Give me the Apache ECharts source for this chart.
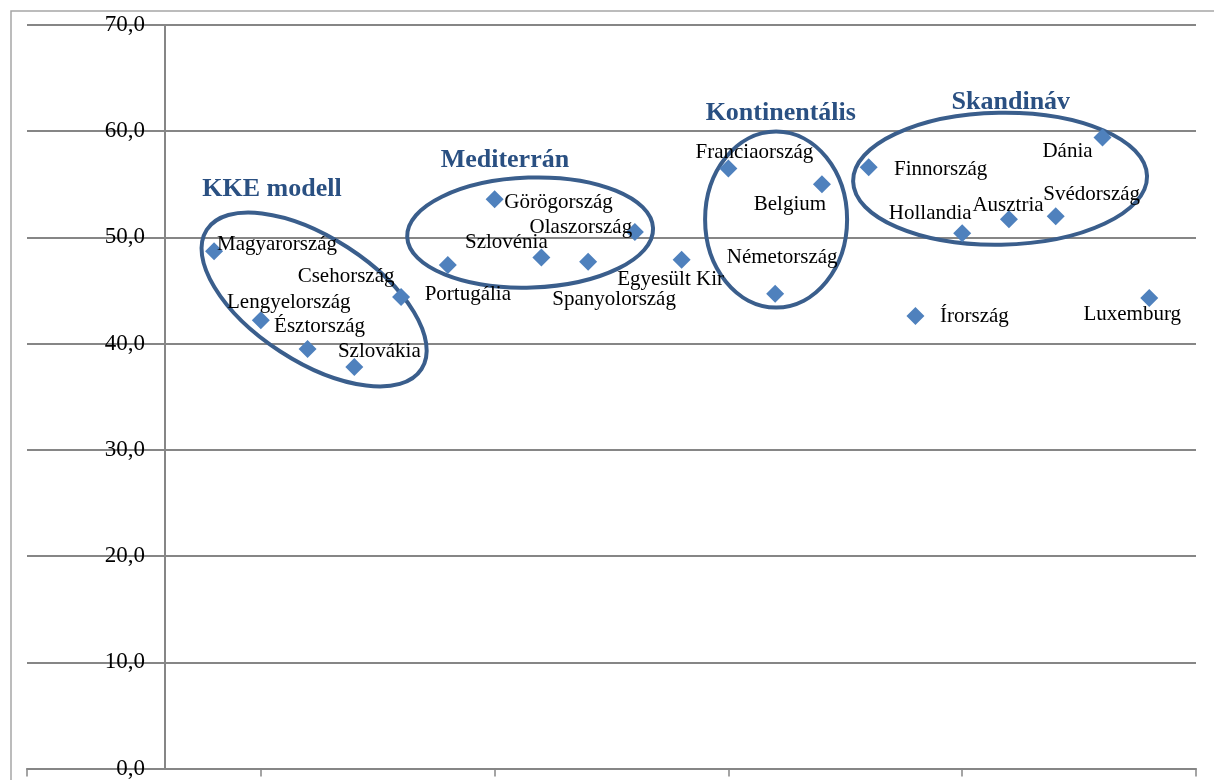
<!DOCTYPE html>
<html>
<head>
<meta charset="utf-8">
<script src="https://cdn.jsdelivr.net/npm/echarts@6/dist/echarts.min.js"></script>
<style>
  html, body { margin: 0; padding: 0; background: #fff; }
  #chart { width: 1214px; height: 780px; }
</style>
</head>
<body>
<div id="chart"></div>
<script>
// countries in x order (x = 4 ... 24)
const countries = ['Magyarország', 'Lengyelország', 'Észtország', 'Szlovákia', 'Csehország',
  'Portugália', 'Görögország', 'Szlovénia', 'Spanyolország', 'Olaszország', 'Egyesült Kir',
  'Franciaország', 'Németország', 'Belgium', 'Finnország', 'Írország', 'Hollandia',
  'Ausztria', 'Svédország', 'Dánia', 'Luxemburg']
const xValues = [4, 5, 6, 7, 8, 9, 10, 11, 12, 13, 14, 15, 16, 17, 18, 19, 20, 21, 22, 23, 24]
const yValues = [48.7, 42.2, 39.5, 37.8, 44.4, 47.4, 53.6, 48.1, 47.7, 50.5, 47.9,
  56.5, 44.7, 55.0, 56.6, 42.6, 50.4, 51.7, 52.0, 59.4, 44.3]
const yTickLabels = ['0,0', '10,0', '20,0', '30,0', '40,0', '50,0', '60,0', '70,0']
const groupNames = ['KKE modell', 'Mediterrán', 'Kontinentális', 'Skandináv']

// label placement (pixel offset of label centre from its point)
const labelOffsets = [[63, -7], [28, -18], [12, -22], [25, -16], [-55, -20],
  [20, 29], [64, 3], [-35, -15], [26, 38], [-54, -5], [-11, 20],
  [26, -16], [7, -36], [-32, 20], [72, 2], [59, 0], [-32, -20],
  [-1, -14], [36, -22], [-35, 14], [-17, 17]]

// group ellipses: centre in data coords, radii in px, rotation in degrees; title in data coords
const groupShapes = [
  { cx: 6.14, cy: 44.16, rx: 128, ry: 62, rot: -33, tx: 5.24, ty: 54.5 },
  { cx: 10.76, cy: 50.46, rx: 123, ry: 55, rot: 2, tx: 10.22, ty: 57.3 },
  { cx: 16.02, cy: 51.68, rx: 71, ry: 88, rot: 0, tx: 16.12, ty: 61.73 },
  { cx: 20.81, cy: 55.53, rx: 147, ry: 66, rot: 1, tx: 21.04, ty: 62.76 }
]

const chart = echarts.init(document.getElementById('chart'))
const font = 'Liberation Serif, Times New Roman, serif'
const gridColor = '#868686'

const option = {
  backgroundColor: '#fff',
  animation: false,
  graphic: [{
    type: 'rect',
    shape: { x: 11, y: 11, width: 1400, height: 1000 },
    style: { fill: 'none', stroke: '#a6a6a6', lineWidth: 1.5 },
    silent: true
  }],
  grid: { left: 27, right: 18, top: 25, bottom: 10 },
  xAxis: {
    type: 'value',
    min: 0,
    max: 25,
    interval: 5,
    axisLine: { show: true, lineStyle: { color: gridColor, width: 2 } },
    axisTick: { show: true, length: 8, lineStyle: { color: gridColor, width: 1.5 } },
    axisLabel: { show: false },
    splitLine: { show: false }
  },
  yAxis: {
    type: 'value',
    min: 0,
    max: 70,
    interval: 10,
    offset: -138,
    axisLine: { show: true, lineStyle: { color: gridColor, width: 2 } },
    axisTick: { show: false },
    axisLabel: {
      margin: 20,
      color: '#000',
      fontFamily: font,
      fontSize: 23,
      formatter: function (v) { return yTickLabels[Math.round(v / 10)] }
    },
    splitLine: { show: true, lineStyle: { color: gridColor, width: 2 } }
  },
  series: [
    {
      type: 'custom',
      silent: true,
      data: groupNames.map(function (n, i) { return [groupShapes[i].cx, groupShapes[i].cy] }),
      encode: { x: 0, y: 1 },
      renderItem: function (params, api) {
        const g = groupShapes[params.dataIndex]
        const c = api.coord([g.cx, g.cy])
        const t = api.coord([g.tx, g.ty])
        return {
          type: 'group',
          children: [
            {
              type: 'ellipse',
              x: c[0],
              y: c[1],
              rotation: g.rot * Math.PI / 180,
              shape: { cx: 0, cy: 0, rx: g.rx, ry: g.ry },
              style: { fill: 'none', stroke: '#3A5E8C', lineWidth: 4 }
            },
            {
              type: 'text',
              x: t[0],
              y: t[1],
              style: {
                text: groupNames[params.dataIndex],
                fill: '#2A5082',
                font: 'bold 26px ' + font,
                textAlign: 'center',
                textVerticalAlign: 'middle'
              }
            }
          ]
        }
      }
    },
    {
      type: 'scatter',
      symbol: 'diamond',
      symbolSize: 18,
      itemStyle: { color: '#4F81BD', opacity: 1 },
      data: countries.map(function (name, i) {
        return {
          name: name,
          value: [xValues[i], yValues[i]],
          label: {
            show: true,
            position: 'inside',
            offset: labelOffsets[i],
            formatter: name,
            color: '#000',
            opacity: 1,
            fontFamily: font,
            fontSize: 21
          }
        }
      })
    }
  ]
}

chart.setOption(option)
</script>
</body>
</html>
